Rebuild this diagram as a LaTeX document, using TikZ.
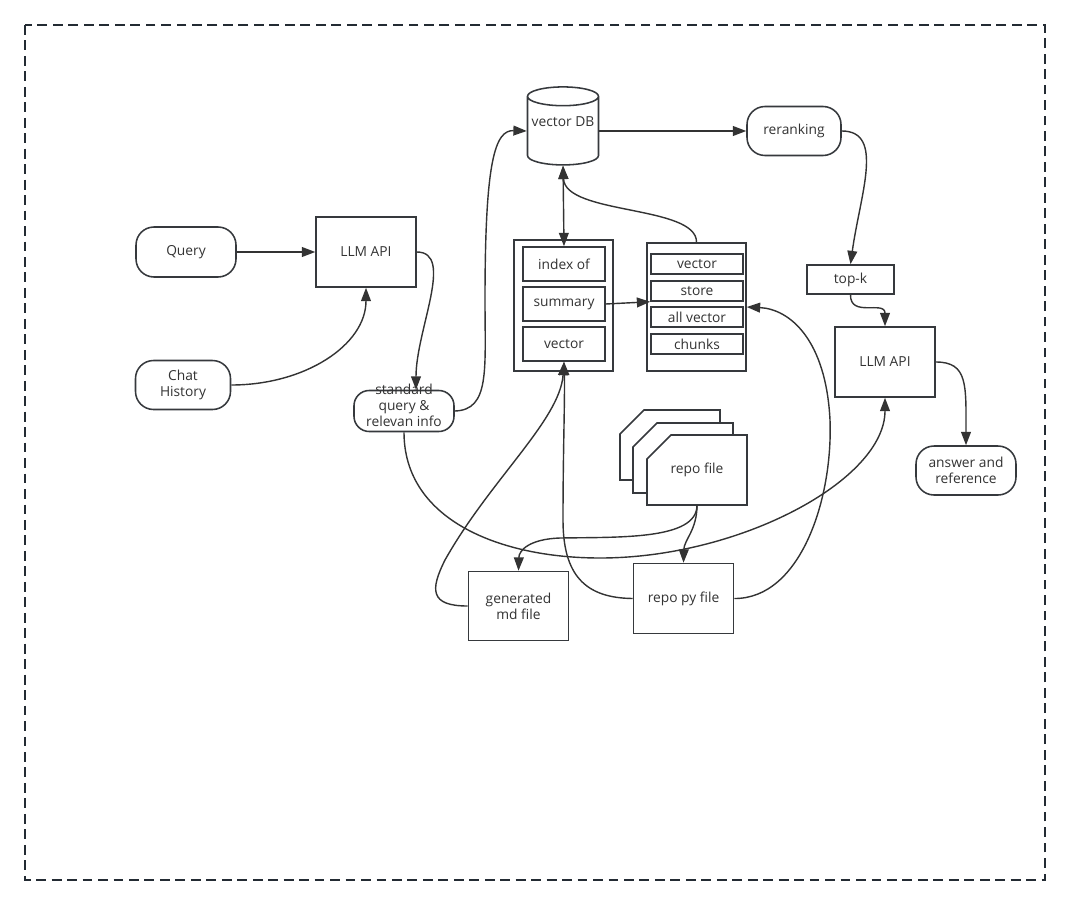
\documentclass[tikz,border=0pt]{standalone}
\usepackage{fontspec}
\setmainfont{Open Sans}
\usetikzlibrary{arrows.meta, shapes.geometric, calc}
\definecolor{cink}{HTML}{333333}
\definecolor{cedge}{HTML}{36393D}
\definecolor{cframe}{HTML}{232B33}

\begin{document}
\begin{tikzpicture}[
  x=0.025cm, y=-0.025cm,
  font=\fontsize{9.8}{11.2}\selectfont,
  >={Triangle[length=9.5pt, width=7pt]},
  sz/.style 2 args={
    minimum width=#1*0.025cm, minimum height=#2*0.025cm
  },
  box/.style={
    draw=cedge, text=cink, line width=1.1pt, fill=white,
    inner sep=0pt, align=center
  },
  pill/.style={
    box, rounded corners=0.45cm
  },
  db/.style={
    box, cylinder, shape border rotate=90, aspect=0.3
  },
  cardedge/.style={
    draw=cedge, line width=1.1pt, fill=white
  },
  conn/.style={
    draw=cink, line width=1pt, ->
  }
]
\useasboundingbox (0,0) rectangle (1070,906);

% ============================================================
% outer frame
% ============================================================
\draw[cframe, line width=1.4pt, dash pattern=on 7pt off 4pt]
  (25,25) rectangle (1045,880);

% ============================================================
% query side
% ============================================================
\node[pill, sz={100}{50}] (query) at (186,252) {Query};
\node[box, sz={100}{70}] (llmA) at (366,252) {LLM API};
\node[pill, sz={95}{49}] (chat) at (183,385) {Chat\\History};
\node[pill, sz={100}{41}, rounded corners=0.38cm] (stdq) at (404,411)
  {\smash{\begin{tabular}{@{}c@{}}standard\\query \&\\relevan info\end{tabular}}};

% ============================================================
% vector store
% ============================================================
\node[db, sz={71}{78}] (vdb) at (563,131) {\smash{\raisebox{3pt}{vector DB}}};
\node[pill, sz={94}{49}] (rerank) at (794,131) {reranking};

% left stack
\node[box, sz={99}{131}] (idxgrp) at (563.5,305.5) {};
\node[box, sz={82}{34}] (idxof) at (564,264) {index of};
\node[box, sz={82}{34}] (summ) at (564,304) {summary};
\node[box, sz={82}{34}] (vecA) at (564,344) {vector};

% right stack
\node[box, sz={99}{128}] (storegrp) at (696.5,307) {};
\node[box, sz={92}{20}] (vecB) at (697,264) {vector};
\node[box, sz={92}{20}] (store) at (697,291) {store};
\node[box, sz={92}{20}] (allvec) at (697,317) {all vector};
\node[box, sz={92}{20}] (chunks) at (697,344) {chunks};

% ============================================================
% answer side
% ============================================================
\node[box, sz={87}{29}] (topk) at (850.5,279.5) {top-k};
\node[box, sz={100}{70}] (llmB) at (885,362) {LLM API};
\node[pill, sz={100}{49}] (answer) at (966,470.5) {answer and\\reference};

% ============================================================
% repo files (stacked cards, clipped corner)
% ============================================================
\foreach \cx/\cy in {670/445, 683/458, 697/470} {
  \draw[cardedge] (\cx-50,\cy-11) -- (\cx-26,\cy-35) -- (\cx+50,\cy-35)
    -- (\cx+50,\cy+35) -- (\cx-50,\cy+35) -- cycle;
}
\node[text=cink, sz={100}{70}] (repoC) at (670,445) {};
\node[text=cink, sz={100}{70}] (repoB) at (683,458) {};
\node[text=cink, sz={100}{70}] (repoA) at (697,470) {repo file};

\node[box, sz={100}{69}] (gmd) at (518.5,606) {generated\\md file};
\node[box, sz={100}{70}] (repopy) at (683.5,598.5) {repo py file};

% ============================================================
% connectors
% ============================================================
\draw[conn] (query) -- (llmA);
\draw[conn] (chat.east) .. controls (305,385) and (366,345) .. (llmA.south);
\draw[conn] (llmA.east) .. controls (455,252) and (416,330) ..
  ($(stdq.north)+(12,0)$);
\draw[conn] (stdq.east) .. controls (490,410) and (485,370) ..
  (485,300) .. controls (485,160) and (495,130) .. (vdb.west);
\draw[conn] (stdq.south) .. controls (404,520) and (500,558) ..
  (600,558) .. controls (740,558) and (885,480) .. (llmB.south);

\draw[conn, <->] (vdb.south) -- (idxof.north);
\draw[conn] (storegrp.north) .. controls (697,205) and (565,215) .. (vdb.south);
\draw[conn] (vdb.east) -- (rerank.west);
\draw[conn] (rerank.east) .. controls (885,131) and (860,195) .. (topk.north);
\draw[conn] (topk.south) .. controls (850,318) and (885,300) .. (llmB.north);
\draw[conn] (llmB.east) .. controls (968,362) and (966,385) .. (answer.north);
\draw[conn] (summ.east) -- (store.south west);

\draw[conn] (repopy.east) .. controls (800,599) and (833,500) ..
  (830,420) .. controls (826,340) and (790,309) .. (storegrp.east);
\draw[conn] (repopy.west) .. controls (585,598) and (563,575) ..
  (563,520) .. controls (563,450) and (565,400) .. (vecA.south);
\draw[conn] (gmd.west) .. controls (430,606) and (430,590) ..
  (445,560) .. controls (490,480) and (560,420) .. (vecA.south);
\draw[conn] (repoA.south) .. controls (697,530) and (684,540) .. (repopy.north);
\draw[conn] (repoA.south) .. controls (697,540) and (620,537) ..
  (560,538) .. controls (530,539) and (519,550) .. (gmd.north);

\end{tikzpicture}
\end{document}
